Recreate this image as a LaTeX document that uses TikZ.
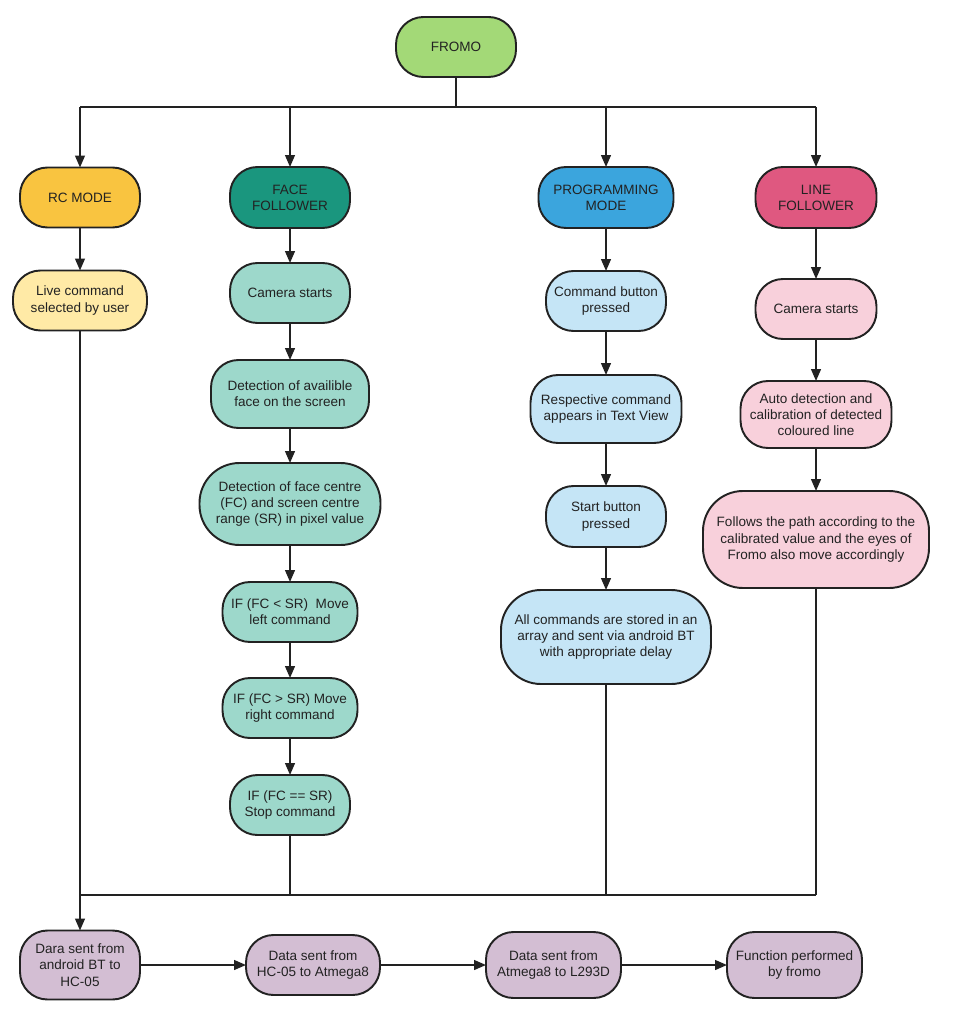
\documentclass[tikz,border=0pt]{standalone}
\usepackage{fontspec}
\setmainfont{Liberation Sans}
\usetikzlibrary{positioning,arrows.meta}
\definecolor{fromoC}{HTML}{A3D977}
\definecolor{rcC}{HTML}{F9C440}
\definecolor{rcL}{HTML}{FFEAA6}
\definecolor{faceC}{HTML}{1A967E}
\definecolor{faceL}{HTML}{9DD8CB}
\definecolor{progC}{HTML}{3BA5DD}
\definecolor{progL}{HTML}{C5E5F6}
\definecolor{lineC}{HTML}{DF5880}
\definecolor{lineL}{HTML}{F8D0DB}
\definecolor{dataC}{HTML}{D3BED3}
\definecolor{darkC}{HTML}{222222}

\begin{document}
\begin{tikzpicture}[
  every node/.style={font=\fontsize{7.7}{9.2}\selectfont, text=darkC},
  flowbox/.style={draw=darkC, line width=1.1pt, fill=#1, rounded corners=0.55cm,
                  minimum width=2.4cm, minimum height=1.2cm, inner sep=2pt,
                  outer sep=0pt, align=center},
  tallbox/.style={flowbox=#1, rounded corners=0.8cm},
  conn/.style={draw=darkC, line width=0.95pt},
  arr/.style={conn, -{Triangle[length=6.8pt,width=5.6pt]}},
]
\useasboundingbox (0,0) rectangle (19.2,-20.42);

% ── Top ──
\node[flowbox=fromoC] (fromo) at (9.12,-0.94) {FROMO};
\coordinate (topbus) at (0,-2.14);
\coordinate (botbus) at (0,-17.9);

% ── Column 1: RC mode ──
\node[flowbox=rcC] (rc) at (1.6,-3.95) {RC MODE};
\node[flowbox=rcL, minimum width=2.68cm, below=0.86 of rc] (live) {Live command\\selected by user};

% ── Column 2: Face follower ──
\node[flowbox=faceC, minimum height=1.22cm] (face) at (5.8,-3.95) {FACE\\FOLLOWER};
\node[flowbox=faceL, below=0.7 of face] (camface) {Camera starts};
\node[flowbox=faceL, minimum width=3.16cm, minimum height=1.36cm, below=0.74 of camface] (detav)
  {Detection of availible\\face on the screen};
\node[tallbox=faceL, minimum width=3.62cm, minimum height=1.64cm, below=0.7 of detav] (detfc)
  {Detection of face centre\\(FC) and screen centre\\range (SR) in pixel value};
\node[flowbox=faceL, minimum width=2.7cm, below=0.74 of detfc] (ifless) {IF (FC < SR)\ \ Move\\left command};
\node[flowbox=faceL, minimum width=2.7cm, below=0.72 of ifless] (ifmore) {IF (FC > SR) Move\\right command};
\node[flowbox=faceL, below=0.74 of ifmore] (ifeq) {IF (FC == SR)\\Stop command};

% ── Column 3: Programming mode ──
\node[flowbox=progC, minimum width=2.7cm, minimum height=1.22cm] (prog) at (12.12,-3.95) {PROGRAMMING\\MODE};
\node[flowbox=progL, below=0.86 of prog] (cmdbtn) {Command button\\pressed};
\node[flowbox=progL, minimum width=3.02cm, minimum height=1.36cm, below=0.88 of cmdbtn] (resp)
  {Respective command\\appears in Text View};
\node[flowbox=progL, minimum height=1.22cm, below=0.86 of resp] (start) {Start button\\pressed};
\node[tallbox=progL, minimum width=4.2cm, minimum height=1.88cm, below=0.86 of start] (allcmd)
  {All commands are stored in an\\array and sent via android BT\\with appropriate delay};

% ── Column 4: Line follower ──
\node[flowbox=lineC, minimum width=2.42cm, minimum height=1.22cm] (line) at (16.32,-3.95) {LINE\\FOLLOWER};
\node[flowbox=lineL, minimum width=2.42cm, below=1.02 of line] (camline) {Camera starts};
\node[flowbox=lineL, minimum width=3.02cm, minimum height=1.34cm, below=0.84 of camline] (auto)
  {Auto detection and\\calibration of detected\\coloured line};
\node[tallbox=lineL, minimum width=4.52cm, minimum height=1.94cm, below=0.86 of auto] (follow)
  {Follows the path according to the\\calibrated value and the eyes of\\Fromo also move accordingly};

% ── Bottom row ──
\node[flowbox=dataC, minimum height=1.38cm] (dara) at (1.6,-19.3) {Dara sent from\\android BT to\\HC-05};
\node[flowbox=dataC, minimum width=2.68cm, right=2.12 of dara] (hcatm) {Data sent from\\HC-05 to Atmega8};
\node[flowbox=dataC, minimum width=2.7cm, minimum height=1.32cm, right=2.12 of hcatm] (atml) {Data sent from\\Atmega8 to L293D};
\node[flowbox=dataC, minimum width=2.7cm, minimum height=1.32cm, right=2.12 of atml] (func) {Function performed\\by fromo};

% ── Edges: FROMO to the four modes ──
\draw[conn] (fromo.south) -- (fromo.south |- topbus);
\draw[conn] (rc.north |- topbus) -- (line.north |- topbus);
\foreach \m in {rc,face,prog,line}
  \draw[arr] (\m.north |- topbus) -- (\m.north);

% ── Edges: down each column ──
\draw[arr] (rc) -- (live);
\draw[arr] (face) -- (camface);
\draw[arr] (camface) -- (detav);
\draw[arr] (detav) -- (detfc);
\draw[arr] (detfc) -- (ifless);
\draw[arr] (ifless) -- (ifmore);
\draw[arr] (ifmore) -- (ifeq);
\draw[arr] (prog) -- (cmdbtn);
\draw[arr] (cmdbtn) -- (resp);
\draw[arr] (resp) -- (start);
\draw[arr] (start) -- (allcmd);
\draw[arr] (line) -- (camline);
\draw[arr] (camline) -- (auto);
\draw[arr] (auto) -- (follow);

% ── Edges: join into the data path ──
\draw[conn] (ifeq.south) -- (ifeq.south |- botbus);
\draw[conn] (allcmd.south) -- (allcmd.south |- botbus);
\draw[conn] (follow.south) -- (follow.south |- botbus);
\draw[conn] (live.south |- botbus) -- (follow.south |- botbus);
\draw[arr] (live.south) -- (dara.north);

% ── Edges: bottom row ──
\draw[arr] (dara) -- (hcatm);
\draw[arr] (hcatm) -- (atml);
\draw[arr] (atml) -- (func);

\end{tikzpicture}
\end{document}
